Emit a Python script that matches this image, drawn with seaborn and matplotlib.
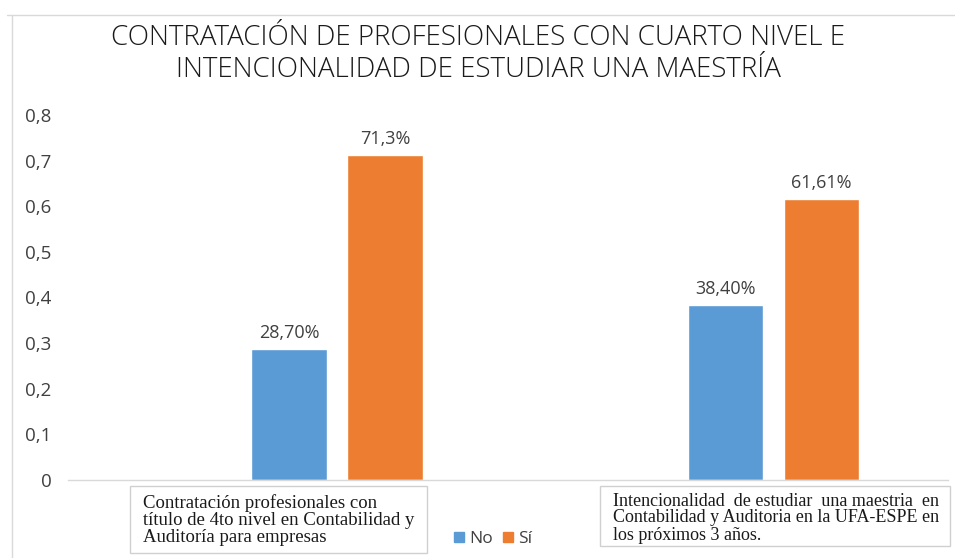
import pandas as pd
import numpy as np
import matplotlib.pyplot as plt
import seaborn as sns
from matplotlib.patches import Rectangle

# data
categorias = ['Contratación', 'Intencionalidad']
respuestas = ['No', 'Sí']
valores_no = [0.287, 0.384]
valores_si = [0.713, 0.6161]
etiquetas_no = ['28,70%', '38,40%']
etiquetas_si = ['71,3%', '61,61%']
yticks = [0, 0.1, 0.2, 0.3, 0.4, 0.5, 0.6, 0.7, 0.8]
ytick_labels = ['0', '0,1', '0,2', '0,3', '0,4', '0,5', '0,6', '0,7', '0,8']
texto_cat1 = ('Contratación profesionales con\n'
              'título de 4to nivel en Contabilidad y\n'
              'Auditoría para empresas')
texto_cat2 = ('Intencionalidad  de estudiar  una maestria  en\n'
              'Contabilidad y Auditoria en la UFA-ESPE en\n'
              'los próximos 3 años.')
titulo = ('CONTRATACIÓN DE PROFESIONALES CON CUARTO NIVEL E\n'
          'INTENCIONALIDAD DE ESTUDIAR UNA MAESTRÍA')

df = pd.DataFrame({
    'categoria': categorias * 2,
    'respuesta': ['No'] * 2 + ['Sí'] * 2,
    'valor': valores_no + valores_si,
})

sns.set_style('white')
plt.rcParams['font.family'] = ['Open Sans', 'DejaVu Sans']

W, H = 955, 558
fig = plt.figure(figsize=(W / 100, H / 100), dpi=100)
ax = fig.add_axes([68 / W, 1 - 480 / H, (948 - 68) / W, (480 - 115) / H])

colores = {'No': '#5B9BD5', 'Sí': '#ED7D31'}
sns.barplot(data=df, x='categoria', y='valor', hue='respuesta', order=categorias,
            hue_order=respuestas, palette=colores, width=0.44, gap=0.21,
            saturation=1, ax=ax, legend=False)

for cont, labs in zip(ax.containers, [etiquetas_no, etiquetas_si]):
    ax.bar_label(cont, labels=labs, padding=5, fontsize=13, color='#404040')

ax.set_xlim(-0.617, 1.40)
ax.set_ylim(0, 0.8)
ax.set_yticks(yticks)
ax.set_yticklabels(ytick_labels, fontsize=13.5, color='#404040')
ax.tick_params(axis='y', length=0, pad=12)
ax.set_xticks([])
ax.set_xlabel('')
ax.set_ylabel('')
for s in ['top', 'right', 'left']:
    ax.spines[s].set_visible(False)
ax.spines['bottom'].set_color('#D9D9D9')
ax.spines['bottom'].set_linewidth(1)

# chart frame
fig.add_artist(plt.Line2D([7 / W, 1], [1 - 15 / H] * 2, color='#D9D9D9', lw=1))
fig.add_artist(plt.Line2D([12 / W] * 2, [1 - 15 / H, 0], color='#D9D9D9', lw=1))

fig.text(478 / W, 1 - 54 / H, titulo, ha='center', va='center', fontsize=20,
         family=['Open Sans', 'DejaVu Sans'], weight='light', color='#1a1a1a',
         linespacing=1.15)

# category boxes
for (x0, y0, x1, y1, dy, fs), txt in zip([(130, 486, 427, 553, 34, 13.5),
                                          (600, 486, 950, 546, 32, 13)],
                                         [texto_cat1, texto_cat2]):
    fig.add_artist(Rectangle((x0 / W, 1 - y1 / H), (x1 - x0) / W, (y1 - y0) / H,
                             transform=fig.transFigure, fill=False,
                             edgecolor='#D0D0D0', lw=1))
    fig.text((x0 + 13) / W, 1 - (y0 + dy) / H, txt, ha='left', va='center',
             fontsize=fs, family=['Liberation Serif', 'DejaVu Serif'],
             color='#1a1a1a', linespacing=1.0)

# legend
handles = [Rectangle((0, 0), 1, 1, color=colores[r]) for r in respuestas]
fig.legend(handles, respuestas, loc='center', bbox_to_anchor=(493 / W, 1 - 539 / H),
           ncol=2, frameon=False, fontsize=12.5, handlelength=0.55, handleheight=0.55,
           columnspacing=0.6, handletextpad=0.3, labelcolor='#404040')

fig.savefig('out.png', dpi=100)
